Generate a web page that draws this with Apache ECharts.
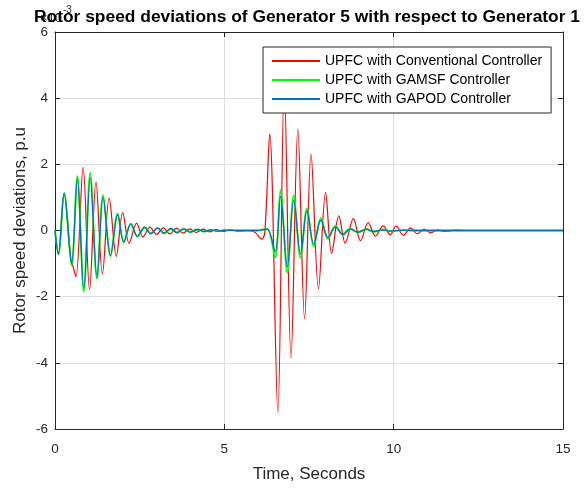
<!DOCTYPE html>
<html><head><meta charset="utf-8">
<script src="https://cdn.jsdelivr.net/npm/echarts@6/dist/echarts.min.js"></script>
<style>html,body{margin:0;padding:0;background:#fff}#c{width:585px;height:488px}</style>
</head><body><div id="c"></div>
<script>
// ---- data (values in units of 1e-3 p.u.) ----
const seriesNames = ['UPFC with Conventional Controller','UPFC with GAMSF Controller','UPFC with GAPOD Controller'];
const xRange = [0, 15, 5];   // min, max, step (s)
const yRange = [-6, 6, 2];   // min, max, step (x1e-3)

const convT = [0,0.1,0.27,0.47,0.55,0.62,0.83,1.02,1.21,1.40,1.60,1.81,2.0,2.19,2.41,2.6,2.8,3.0,3.2,3.39,3.59,3.78,3.98,4.17,4.37,4.56,4.76,4.95,5.2,5.4,5.7,5.9,6.11,6.2,6.34,6.58,6.77,6.97,7.17,7.37,7.56,7.78,7.99,8.17,8.38,8.57,8.81,9.02,9.25,9.46,9.69,9.9,10.07,10.29,10.5,10.7,10.9,11.1,11.3,11.5,11.8,12.2,15];
const convV = [0,-0.72,1.13,-0.85,-1.15,-1.4,1.91,-1.79,1.47,-1.31,0.99,-0.78,0.54,-0.39,0.22,-0.19,0.1,-0.12,0.08,-0.1,0.07,-0.08,0.05,-0.06,0.04,-0.04,0.03,-0.03,0.02,-0.02,0.0,-0.05,-0.26,0.0,2.92,-5.5,4.4,-3.86,3.07,-2.67,2.31,-1.76,1.15,-0.69,0.44,-0.38,0.36,-0.31,0.24,-0.17,0.14,-0.13,0.13,-0.14,0.08,-0.1,0.04,-0.07,0.02,-0.03,0.01,0,0];

const gamsfT = [0,0.1,0.27,0.49,0.66,0.85,1.04,1.24,1.42,1.64,1.85,2.03,2.24,2.43,2.65,2.83,3.03,3.22,3.42,3.6,3.8,4.0,4.2,4.4,4.6,4.8,5.0,5.5,6.0,6.1,6.27,6.5,6.66,6.86,7.05,7.25,7.44,7.64,7.85,8.06,8.28,8.5,8.72,8.94,9.2,9.4,9.7,9.9,10.3,10.6,15];
const gamsfV = [0,-0.72,1.13,-1.05,1.64,-1.84,1.74,-1.46,1.07,-0.78,0.51,-0.36,0.21,-0.18,0.1,-0.1,0.08,-0.09,0.06,-0.07,0.05,-0.05,0.03,-0.03,0.02,-0.02,0.01,0,0,0.02,0.05,-0.82,1.23,-1.27,1.06,-0.83,0.67,-0.49,0.37,-0.25,0.13,-0.13,0.06,-0.06,0.04,-0.04,0.03,-0.02,0.01,0,0];

const gapodT = [0,0.1,0.27,0.49,0.66,0.85,1.04,1.24,1.42,1.64,1.85,2.03,2.24,2.43,2.65,2.83,3.03,3.22,3.42,3.6,3.8,4.0,4.2,4.4,4.6,4.8,5.0,5.5,6.0,6.1,6.27,6.5,6.66,6.86,7.05,7.25,7.44,7.64,7.85,8.06,8.28,8.5,8.72,8.94,9.2,9.4,9.7,9.9,10.3,10.6,15];
const gapodV = [0,-0.72,1.13,-1.0,1.55,-1.75,1.6,-1.4,1.0,-0.75,0.48,-0.34,0.2,-0.17,0.09,-0.09,0.07,-0.08,0.06,-0.06,0.05,-0.05,0.03,-0.03,0.02,-0.02,0.01,0,0,0.02,0.04,-0.64,1.03,-1.1,0.91,-0.71,0.59,-0.41,0.31,-0.21,0.11,-0.12,0.05,-0.05,0.04,-0.03,0.02,-0.02,0.01,0,0];

const colors = ['#ff0000','#00ff00','#0072bd'];
const widths = [1.2, 1.8, 1.3];

const zip = (t, v) => t.map((x, i) => [x, v[i]]);
const dataSets = [zip(convT, convV), zip(gamsfT, gamsfV), zip(gapodT, gapodV)];

const FONT = '"Liberation Sans", Arial, Helvetica, sans-serif';
const AX = '#262626';

const chart = echarts.init(document.getElementById('c'), null, {renderer: 'canvas'});
const baseX = {type:'value', min:xRange[0], max:xRange[1], interval:xRange[2]};
const baseY = {type:'value', min:yRange[0], max:yRange[1], interval:yRange[2]};
chart.setOption({
  animation: false,
  backgroundColor: '#fff',
  grid: {left: 55, right: 22, top: 32, bottom: 56, containLabel: false},
  xAxis: [
    Object.assign({}, baseX, {
      position: 'bottom',
      name: 'Time, Seconds', nameLocation: 'middle', nameGap: 37, nameMoveOverlap: false,
      nameTextStyle: {fontFamily: FONT, fontSize: 17, color: AX},
      axisLine: {show: true, onZero: false, lineStyle: {color: AX, width: 1}},
      axisTick: {show: true, inside: true, length: 5, lineStyle: {color: AX}},
      axisLabel: {fontFamily: FONT, fontSize: 13.5, color: AX, margin: 13},
      splitLine: {show: true, lineStyle: {color: '#dedede', width: 1}}
    }),
    Object.assign({}, baseX, {
      position: 'top',
      axisLine: {show: true, onZero: false, lineStyle: {color: AX, width: 1}},
      axisTick: {show: true, inside: true, length: 5, lineStyle: {color: AX}},
      axisLabel: {show: false}, splitLine: {show: false}
    })
  ],
  yAxis: [
    Object.assign({}, baseY, {
      position: 'left',
      name: 'Rotor speed deviations, p.u', nameLocation: 'middle', nameGap: 26, nameRotate: 90, nameMoveOverlap: false,
      nameTextStyle: {fontFamily: FONT, fontSize: 17, color: AX},
      axisLine: {show: true, onZero: false, lineStyle: {color: AX, width: 1}},
      axisTick: {show: true, inside: true, length: 5, lineStyle: {color: AX}},
      axisLabel: {fontFamily: FONT, fontSize: 13.5, color: AX, margin: 7},
      splitLine: {show: true, lineStyle: {color: '#dedede', width: 1}}
    }),
    Object.assign({}, baseY, {
      position: 'right',
      axisLine: {show: true, onZero: false, lineStyle: {color: AX, width: 1}},
      axisTick: {show: true, inside: true, length: 5, lineStyle: {color: AX}},
      axisLabel: {show: false}, splitLine: {show: false}
    })
  ],
  legend: {
    left: 263, top: 47, orient: 'vertical',
    backgroundColor: '#fff', borderColor: AX, borderWidth: 1,
    padding: [6, 9, 6, 9], itemGap: 3,
    itemWidth: 48, itemHeight: 2, icon: 'rect',
    textStyle: {fontFamily: FONT, fontSize: 14, color: '#000', lineHeight: 16},
    data: seriesNames
  },
  graphic: [
    {type: 'text', left: 40, top: 12, z: 1, style: {text: '×10', font: '13px ' + FONT, fill: AX}},
    {type: 'text', left: 63, top: 5, z: 1, style: {text: '-3', font: '10px ' + FONT, fill: AX}},
    {type: 'text', x: 307, y: 17, z: 10, style: {text: 'Rotor speed deviations of Generator 5 with respect to Generator 1', font: 'bold 17.4px ' + FONT, fill: '#000', align: 'center', verticalAlign: 'middle'}}
  ],
  series: seriesNames.map((n, i) => ({
    name: n, type: 'line', data: dataSets[i], xAxisIndex: 0, yAxisIndex: 0,
    showSymbol: false, symbol: 'none', smooth: 0.35, clip: true,
    lineStyle: {color: colors[i], width: widths[i]}, itemStyle: {color: colors[i]},
    z: 2 + i
  }))
});
</script></body></html>
